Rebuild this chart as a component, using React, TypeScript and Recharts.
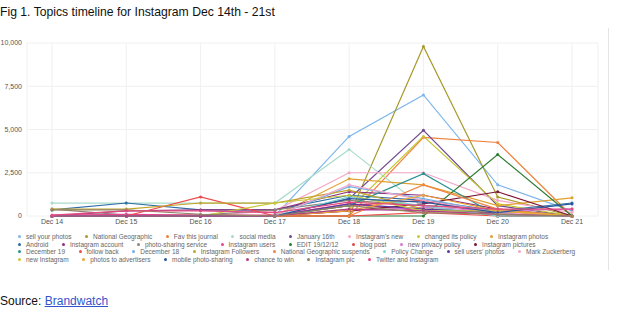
import { LineChart, Line, XAxis, YAxis, CartesianGrid } from 'recharts';

const days = ['Dec 14', 'Dec 15', 'Dec 16', 'Dec 17', 'Dec 18', 'Dec 19', 'Dec 20', 'Dec 21'];
const yTicks = [0, 2500, 5000, 7500, 10000];

// topic name, colour, mentions per day (Dec 14 .. Dec 21)
const topics: [string, string, number[]][] = [
  ['sell your photos', '#7cb5ec', [0, 0, 0, 0, 4600, 7000, 1800, 300]],
  ['National Geographic', '#a69a2a', [0, 0, 0, 0, 0, 9800, 1100, 0]],
  ['Fav this journal', '#f0803c', [0, 0, 0, 0, 0, 4550, 4250, 0]],
  ['social media', '#a8dbc9', [750, 750, 750, 750, 3850, 500, 0, 0]],
  ['January 16th', '#6f4a8e', [0, 0, 0, 0, 1000, 4950, 600, 0]],
  ["Instagram's new", '#f4a6c6', [0, 0, 0, 300, 2500, 2500, 900, 200]],
  ['changed its policy', '#c5c834', [0, 0, 0, 0, 400, 4600, 700, 0]],
  ['Instagram photos', '#e0a030', [0, 0, 0, 0, 2150, 1800, 600, 1050]],
  ['Android', '#2e6ca4', [350, 750, 350, 350, 1200, 900, 300, 750]],
  ['Instagram account', '#8e2f7e', [0, 300, 350, 350, 1400, 1200, 400, 0]],
  ['photo-sharing service', '#8f8474', [400, 50, 50, 350, 900, 600, 400, 0]],
  ['Instagram users', '#e5458f', [50, 100, 50, 50, 700, 300, 100, 0]],
  ['EDIT 19/12/12', '#2c7d32', [0, 0, 0, 0, 0, 0, 3550, 0]],
  ['blog post', '#e04848', [0, 0, 0, 0, 600, 900, 0, 0]],
  ['new privacy policy', '#d47ad0', [0, 0, 0, 0, 300, 500, 300, 400]],
  ['Instagram pictures', '#7c1733', [0, 0, 0, 0, 300, 700, 1400, 0]],
  ['December 19', '#27908f', [0, 0, 0, 0, 600, 2450, 0, 0]],
  ['follow back', '#f04a4a', [0, 0, 1100, 0, 0, 200, 0, 0]],
  ['December 18', '#72b0e6', [0, 0, 0, 0, 1700, 1000, 200, 0]],
  ['Instagram Followers', '#c2a52a', [400, 400, 750, 750, 1500, 400, 200, 0]],
  ['National Geographic suspends', '#f28444', [0, 0, 0, 0, 0, 1800, 400, 0]],
  ['Policy Change', '#7dd4d4', [0, 0, 0, 0, 1100, 600, 0, 0]],
  ["sell users' photos", '#5a3aa0', [0, 0, 0, 0, 700, 400, 200, 0]],
  ['Mark Zuckerberg', '#f5a7c7', [0, 0, 0, 0, 1800, 900, 200, 0]],
  ['new Instagram', '#c8c83a', [0, 0, 0, 750, 1200, 300, 300, 0]],
  ['photos to advertisers', '#f0a535', [0, 0, 0, 0, 300, 1200, 300, 0]],
  ['mobile photo-sharing', '#2a55a0', [0, 0, 0, 0, 1000, 800, 200, 700]],
  ['chance to win', '#b23c8c', [0, 0, 0, 0, 400, 300, 100, 0]],
  ['Instagram pic', '#918463', [350, 350, 100, 0, 600, 200, 100, 0]],
  ['Twitter and Instagram', '#e24a82', [50, 300, 300, 200, 800, 600, 400, 400]],
];

const legendRows = [8, 8, 8, 6];

const data = days.map((d, i) => {
  const row: Record<string, string | number> = { day: d };
  topics.forEach(([name, , vals]) => (row[name] = vals[i]));
  return row;
});

const font = '"Liberation Sans", Arial, sans-serif';

function TopicLegend() {
  let start = 0;
  return (
    <div style={{ position: 'absolute', left: 18, top: 233, fontFamily: font, fontSize: 6.5, color: '#666' }}>
      {legendRows.map((n, r) => {
        const items = topics.slice(start, start + n);
        start += n;
        return (
          <div key={r} style={{ display: 'flex', height: 7.6, alignItems: 'center', whiteSpace: 'nowrap' }}>
            {items.map(([name, color]) => (
              <span key={name} style={{ display: 'inline-flex', alignItems: 'center', marginRight: 13.5 }}>
                <span style={{ width: 3, height: 3, borderRadius: 2, background: color, marginRight: 5 }} />
                {name}
              </span>
            ))}
          </div>
        );
      })}
    </div>
  );
}

export default function App() {
  return (
    <div style={{ position: 'absolute', left: 0, top: 0, width: 617, height: 316, background: '#fff', fontFamily: font }}>
      <div style={{ position: 'absolute', left: 0, top: 5, fontSize: 12.2, color: '#111' }}>
        Fig 1. Topics timeline for Instagram Dec 14th - 21st
      </div>
      <div style={{ position: 'absolute', left: 0, top: 28, width: 608, height: 242, borderRight: '1px solid #e4e4e4' }} />
      <div style={{ position: 'absolute', left: 0, top: 30 }}>
        <LineChart width={610} height={200} data={data} margin={{ top: 13, right: 12, bottom: 0, left: 0 }}>
          <CartesianGrid stroke="#f0f0f0" strokeWidth={1} />
          <XAxis
            dataKey="day"
            axisLine={false}
            tickLine={false}
            tickSize={0}
            tickMargin={3.5}
            height={14}
            padding={{ left: 25, right: 26 }}
            tick={{ fontSize: 7, fill: '#555', fontFamily: font }}
            interval={0}
          />
          <YAxis
            domain={[0, 10000]}
            ticks={yTicks}
            axisLine={false}
            tickLine={false}
            tickSize={0}
            tickMargin={5}
            width={27}
            tick={{ fontSize: 7, fill: '#555', fontFamily: font }}
            tickFormatter={(v: number) => v.toLocaleString('en-US')}
          />
          {topics.map(([name, color]) => (
            <Line
              key={name}
              dataKey={name}
              type="linear"
              stroke={color}
              strokeWidth={1.2}
              dot={{ r: 1.5, fill: color, stroke: 'none' }}
              activeDot={false}
              isAnimationActive={false}
            />
          ))}
        </LineChart>
      </div>
      <TopicLegend />
      <div style={{ position: 'absolute', left: 0, top: 294, fontSize: 12, color: '#111' }}>
        Source: <a href="#" style={{ color: '#3355cc' }}>Brandwatch</a>
      </div>
    </div>
  );
}
